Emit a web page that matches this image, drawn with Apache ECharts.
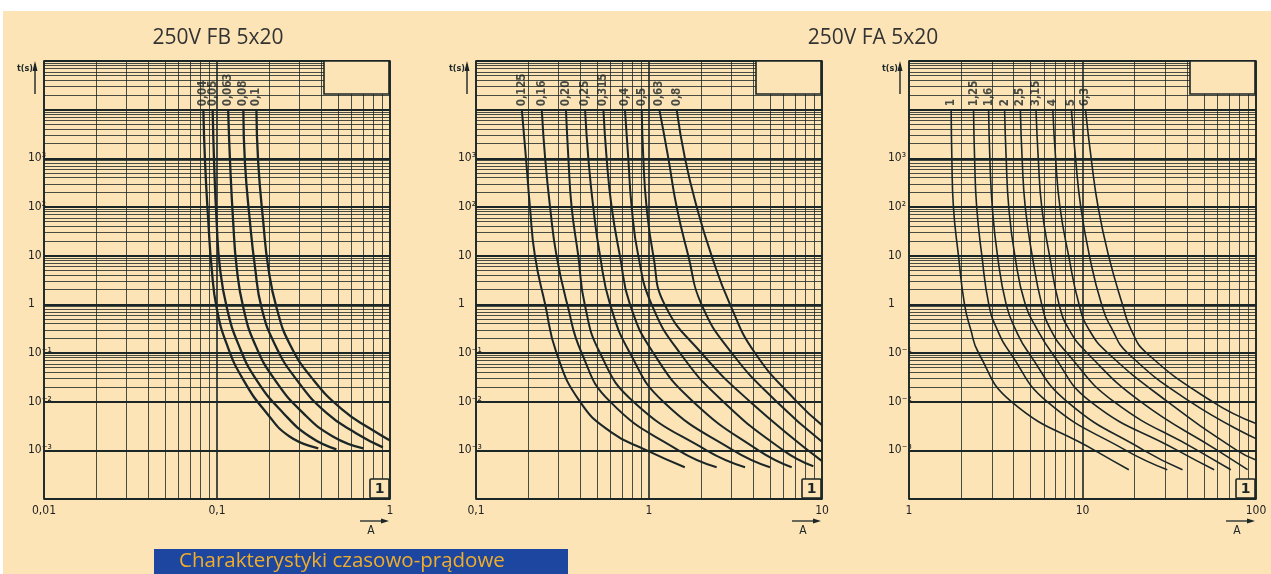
<!DOCTYPE html>
<html><head><meta charset="utf-8">
<script src="https://cdn.jsdelivr.net/npm/echarts@6.0.0/dist/echarts.min.js"></script>
<style>
html,body{margin:0;padding:0;background:#fff;overflow:hidden;}
#bg{position:absolute;left:3px;top:11px;width:1268px;height:563px;background:#fce4b7;}
#chart{position:absolute;left:0;top:0;width:1271px;height:574px;}
</style></head><body>
<div id="bg"></div><div id="chart"></div>
<script>
// ---------------- DATA (current in A, time in s) ----------------
const titles = ['250V FB 5x20', '250V FA 5x20'];
const banner = 'Charakterystyki czasowo-prądowe';
const yTickLabels = ['10⁻³', '10⁻²', '10⁻¹', '1', '10', '10²', '10³']; // exponents -3..3
const fbTickLabels = ['0,01', '0,1', '1'];
const faLowTickLabels = ['0,1', '1', '10'];
const faHighTickLabels = ['1', '10', '100'];

const fbNames = ['0,04', '0,05', '0,063', '0,08', '0,1'];
const fb004 = [[0.0834,10000],[0.0853,830],[0.0891,50],[0.0931,5.6],[0.0995,0.85],[0.114,0.15],[0.142,0.028],[0.194,0.0058],[0.264,0.0019],[0.385,0.0011]];
const fb005 = [[0.0944,10000],[0.0962,830],[0.0995,50],[0.104,5.6],[0.114,0.85],[0.133,0.15],[0.169,0.028],[0.242,0.0058],[0.345,0.0019],[0.49,0.00105]];
const fb0063 = [[0.116,10000],[0.119,830],[0.124,50],[0.130,5.6],[0.142,0.85],[0.166,0.15],[0.216,0.028],[0.315,0.0058],[0.470,0.0019],[0.70,0.0011]];
const fb008 = [[0.142,10000],[0.145,830],[0.155,50],[0.166,5.6],[0.181,0.85],[0.216,0.15],[0.289,0.028],[0.431,0.0058],[0.643,0.0022],[0.91,0.00115]];
const fb01 = [[0.169,10000],[0.173,830],[0.185,50],[0.198,5.6],[0.221,0.85],[0.264,0.15],[0.361,0.028],[0.537,0.0066],[0.766,0.0028],[1.0,0.0016]];

const faLowNames = ['0,125', '0,16', '0,20', '0,25', '0,315', '0,4', '0,5', '0,63', '0,8'];
const fa0125 = [[0.184,10000],[0.1945,1000],[0.205,100],[0.219,10],[0.251,1],[0.292,0.1],[0.399,0.01],[0.60,0.0024],[0.97,0.001],[1.61,0.00045]];
const fa016 = [[0.240,10000],[0.251,1000],[0.268,100],[0.292,10],[0.337,1],[0.408,0.1],[0.596,0.01],[1.48,0.001],[2.46,0.00045]];
const fa020 = [[0.331,10000],[0.342,1000],[0.357,100],[0.390,10],[0.425,1],[0.521,0.1],[0.813,0.01],[2.15,0.001],[3.59,0.00045]];
const fa025 = [[0.427,10000],[0.446,1000],[0.476,100],[0.521,10],[0.596,1],[0.776,0.1],[1.21,0.01],[3.07,0.001],[5.0,0.00045]];
const fa0315 = [[0.545,10000],[0.569,1000],[0.608,100],[0.679,10],[0.776,1],[1.06,0.1],[1.80,0.01],[4.29,0.001],[6.68,0.00045]];
const fa04 = [[0.726,10000],[0.759,1000],[0.794,100],[0.867,10],[1.035,1],[1.51,0.1],[2.69,0.01],[5.97,0.001],[8.91,0.00047]];
const fa05 = [[0.908,10000],[0.927,1000],[0.968,100],[1.059,10],[1.23,1],[2.01,0.1],[3.84,0.01],[10,0.0006]];
const fa063 = [[1.148,10000],[1.294,1000],[1.445,100],[1.687,10],[2.01,1],[3.01,0.1],[5.47,0.01],[10,0.0015]];
const fa08 = [[1.445,10000],[1.614,1000],[1.888,100],[2.30,10],[2.94,1],[4.10,0.1],[7.15,0.01],[10,0.0033]];

const faHighNames = ['1', '1,25', '1,6', '2', '2,5', '3,15', '4', '5', '6,3'];
const fa1 = [[1.75,10000],[1.766,1000],[1.803,100],[1.928,10],[2.089,1],[2.265,0.31],[2.518,0.1],[3.89,0.01],[11.75,0.001],[18.5,0.0004]];
const fa125 = [[2.355,10000],[2.388,1000],[2.455,100],[2.63,10],[2.884,1],[3.214,0.31],[3.837,0.1],[6.252,0.01],[17.78,0.001],[30.8,0.0004]];
const fa16 = [[2.877,10000],[2.924,1000],[3.02,100],[3.236,10],[3.631,1],[4.102,0.31],[4.898,0.1],[8.147,0.01],[22.59,0.001],[37.7,0.0004]];
const fa2 = [[3.556,10000],[3.631,1000],[3.758,100],[4.074,10],[4.677,1],[5.47,0.31],[6.668,0.1],[11.12,0.01],[35.24,0.001],[57.4,0.0004]];
const fa25 = [[4.385,10000],[4.487,1000],[4.677,100],[5.129,10],[5.821,1],[6.531,0.31],[8.147,0.1],[15.17,0.01],[46.03,0.001],[71.6,0.0004]];
const fa315 = [[5.395,10000],[5.559,1000],[5.821,100],[6.457,10],[7.328,1],[8.337,0.31],[10.64,0.1],[21.63,0.01],[59.98,0.001],[89.5,0.0004]];
const fa4 = [[6.745,10000],[6.998,1000],[7.413,100],[8.318,10],[9.55,1],[10.86,0.31],[14.0,0.1],[30.9,0.01],[77.62,0.001],[100,0.00063]];
const fa5 = [[8.63,10000],[9.12,1000],[9.772,100],[10.96,10],[12.88,1],[14.8,0.31],[18.2,0.1],[41.7,0.01],[100,0.00174]];
const fa63 = [[10.4,10000],[11.22,1000],[12.3,100],[14.13,10],[16.98,1],[19.0,0.31],[23.4,0.1],[56.0,0.01],[100,0.00355]];

// ---------------- LAYOUT / STYLE ----------------
const INK = '#1b2626';
const PEACH = '#fce4b7';
const panels = [
  {left:44, top:61, width:346, height:438, xMin:0.01, xMax:1, ticks:fbTickLabels, names:fbNames,
   curves:[fb004, fb005, fb0063, fb008, fb01], lw:2.3, yMargin:16},
  {left:476, top:61, width:346, height:438, xMin:0.1, xMax:10, ticks:faLowTickLabels, names:faLowNames,
   curves:[fa0125, fa016, fa020, fa025, fa0315, fa04, fa05, fa063, fa08], lw:2.0, yMargin:18},
  {left:909, top:61, width:347, height:438, xMin:1, xMax:100, ticks:faHighTickLabels, names:faHighNames,
   curves:[fa1, fa125, fa16, fa2, fa25, fa315, fa4, fa5, fa63], lw:1.6, yMargin:21}
];
const Y_MIN = 1e-4, Y_MAX = 1e5;

function minorValues(lo, hi) {
  const out = [];
  const e0 = Math.round(Math.log10(lo)), e1 = Math.round(Math.log10(hi));
  for (let e = e0; e < e1; e++) for (let k = 2; k <= 9; k++) out.push(Number((k * Math.pow(10, e)).toPrecision(6)));
  return out;
}
const tickFont = "'DejaVu Sans Condensed','DejaVu Sans',sans-serif";

const grid = [], xAxis = [], yAxis = [], series = [], graphic = [];
panels.forEach((p, i) => {
  grid.push({left:p.left, top:p.top, width:p.width, height:p.height, show:true,
    borderColor:INK, borderWidth:1.6, backgroundColor:'transparent', containLabel:false});
  const xe0 = Math.round(Math.log10(p.xMin));
  xAxis.push({type:'log', logBase:10, gridIndex:i, min:p.xMin, max:p.xMax,
    axisLine:{show:false}, axisTick:{show:false},
    splitLine:{show:true, lineStyle:{color:INK, width:1.6}},
    axisLabel:{show:true, margin:6, color:'#222', fontSize:12, fontFamily:tickFont,
      showMinLabel:true, showMaxLabel:true,
      formatter: v => { const e = Math.round(Math.log10(v)); return p.ticks[e - xe0] || ''; }}});
  yAxis.push({type:'log', logBase:10, gridIndex:i, min:Y_MIN, max:Y_MAX,
    axisLine:{show:false}, axisTick:{show:false},
    splitLine:{show:true, lineStyle:{color:INK, width:2.2}},
    axisLabel:{show:true, margin:p.yMargin, align:'left', color:'#222', fontSize:12, fontFamily:tickFont,
      formatter: v => { const e = Math.round(Math.log10(v)); return yTickLabels[e + 3] || ''; }}});
  const mlData = minorValues(Y_MIN, Y_MAX).map(v => ({yAxis:v}))
    .concat(minorValues(p.xMin, p.xMax).map(v => ({xAxis:v})));
  series.push({type:'line', xAxisIndex:i, yAxisIndex:i, data:[], silent:true, z:1,
    markLine:{silent:true, symbol:['none','none'], label:{show:false}, animation:false,
      emphasis:{disabled:true},
      lineStyle:{color:'rgba(27,38,38,0.8)', width:1, type:'solid'}, data:mlData}});
  p.curves.forEach((c, k) => {
    series.push({type:'line', name:p.names[k], xAxisIndex:i, yAxisIndex:i, data:c, z:3,
      symbol:'none', showSymbol:false, smooth:0.5, silent:true,
      lineStyle:{color:INK, width:p.lw}});
  });
  series.push({type:'scatter', xAxisIndex:i, yAxisIndex:i, z:4, silent:true, symbolSize:1,
    itemStyle:{color:'rgba(0,0,0,0)'},
    data:p.curves.map((c, k) => ({value:c[0], name:p.names[k]})),
    label:{show:true, position:'top', distance:3, rotate:90, align:'left', verticalAlign:'middle',
      formatter:'{b}', color:INK, fontSize:11.5, fontWeight:'bold', fontFamily:tickFont}});

  const R = p.left + p.width, B = p.top + p.height;
  graphic.push({type:'rect', z:100, shape:{x:R-66, y:p.top, width:65, height:33},
    style:{fill:PEACH, stroke:INK, lineWidth:1.6}});
  graphic.push({type:'rect', z:100, shape:{x:R-20, y:B-20, width:19, height:19, r:1},
    style:{fill:PEACH, stroke:INK, lineWidth:1.6}});
  graphic.push({type:'text', z:101, x:R-10.5, y:B-10, style:{text:'1', fill:INK,
    font:"bold 14px 'DejaVu Sans'", align:'center', verticalAlign:'middle'}});
  graphic.push({type:'text', z:101, x:p.left-11, y:69, style:{text:'t(s)', fill:INK,
    font:"bold 9px 'DejaVu Sans Condensed'", align:'right', verticalAlign:'middle'}});
  graphic.push({type:'line', z:101, shape:{x1:p.left-9, y1:94, x2:p.left-9, y2:64},
    style:{stroke:INK, lineWidth:1.4}});
  graphic.push({type:'polygon', z:101, shape:{points:[[p.left-9,61],[p.left-11.5,71],[p.left-6.5,71]]},
    style:{fill:INK}});
  graphic.push({type:'line', z:101, shape:{x1:R-30, y1:521, x2:R-4, y2:521},
    style:{stroke:INK, lineWidth:1.3}});
  graphic.push({type:'polygon', z:101, shape:{points:[[R-1,521],[R-9,518.5],[R-9,523.5]]},
    style:{fill:INK}});
  graphic.push({type:'text', z:101, x:R-19, y:531, style:{text:'A', fill:INK,
    font:"12px 'DejaVu Sans Condensed'", align:'center', verticalAlign:'middle'}});
});

graphic.push({type:'text', z:101, x:218, y:38, style:{text:titles[0], fill:'#333',
  font:"21px 'Open Sans'", align:'center', verticalAlign:'middle'}});
graphic.push({type:'text', z:101, x:873, y:38, style:{text:titles[1], fill:'#333',
  font:"21px 'Open Sans'", align:'center', verticalAlign:'middle'}});
graphic.push({type:'rect', z:100, shape:{x:154, y:549, width:414, height:25}, style:{fill:'#1c46a0'}});
graphic.push({type:'text', z:101, x:179, y:561, style:{text:banner, fill:'#f0ad2a',
  font:"20.5px 'Open Sans'", align:'left', verticalAlign:'middle'}});

const chart = echarts.init(document.getElementById('chart'), null, {renderer:'canvas'});
chart.setOption({animation:false, backgroundColor:'transparent', grid, xAxis, yAxis, series, graphic});
</script>
</body></html>
